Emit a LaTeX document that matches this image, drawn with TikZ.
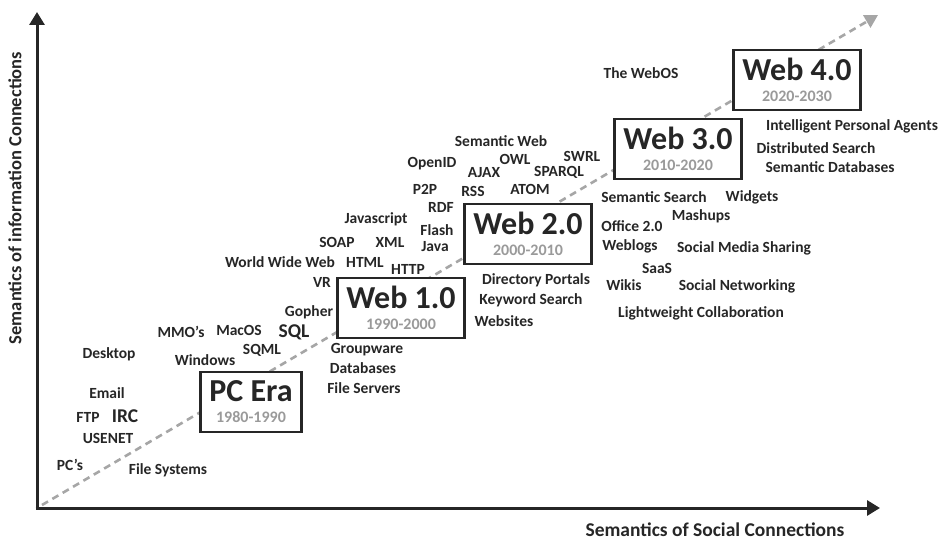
\documentclass[tikz,border=0pt]{standalone}
\usepackage{fontspec}
\setmainfont{Carlito}
\usepackage{xcolor}
\usepackage{tikz}
\usetikzlibrary{arrows.meta,positioning}
\definecolor{ink}{HTML}{262626}
\definecolor{yeargray}{HTML}{9A9A9A}
\definecolor{trendgray}{HTML}{A6A6A6}
\tikzset{
  myaxis/.style={line width=3pt,draw=ink,-{Triangle[length=13pt,width=15pt]}},
  mytrend/.style={line width=2.6pt,draw=trendgray,dash pattern=on 7pt off 5pt,
    -{Triangle[length=13pt,width=14pt]}},
  myterm/.style={text=ink,font=\bfseries\fontsize{15.5}{16}\selectfont,inner sep=0pt},
  mybig/.style={myterm,font=\bfseries\fontsize{19.5}{20}\selectfont},
  myera/.style={draw=ink,line width=2.6pt,fill=white,align=center,text=ink,
    font=\bfseries\fontsize{32}{32}\selectfont,
    minimum height=60pt,inner xsep=9pt,inner ysep=2pt},
  myaxlabel/.style={text=ink,font=\bfseries\fontsize{19.5}{20}\selectfont}
}
\newcommand{\era}[2]{#1\\[-11pt]
  {\color{yeargray}\fontsize{16}{17}\selectfont #2}}

\begin{document}
\begin{tikzpicture}[x=1pt,y=-1pt]
  \useasboundingbox (0,0) rectangle (944,540);
  \coordinate (origin) at (37,508);
  \coordinate (ytip) at (37,12);
  \coordinate (xtip) at (880,508);
  \coordinate (trendstart) at (42,505);
  \coordinate (trendend) at (878,15);

  % axes and the rising trend
  \draw[mytrend] (trendstart) -- (trendend);
  \draw[myaxis] ([yshift=1.5pt]origin) -- (ytip);
  \draw[myaxis] ([xshift=-1.5pt]origin) -- (xtip);
  \node[myaxlabel,rotate=90,font=\bfseries\fontsize{18.5}{19}\selectfont] (ylab)
    at (15,198) {Semantics of information Connections};
  \node[myaxlabel] (xlab) at (715,530) {Semantics of Social Connections};

  % the eras
  \node[myera] (pc)   at (251,402) {\era{PC Era}{1980-1990}};
  \node[myera] (web1) at (401,308) {\era{Web 1.0}{1990-2000}};
  \node[myera] (web2) at (528,234) {\era{Web 2.0}{2000-2010}};
  \node[myera] (web3) at (678,149) {\era{Web 3.0}{2010-2020}};
  \node[myera] (web4) at (797,80)  {\era{Web 4.0}{2020-2030}};

  % technologies around each era
  \foreach \x/\y/\t [count=\i] in {
      109/354/Desktop, 107/393/Email, 88/417/FTP, 108/438/USENET,
      70/465/PC’s, 168/470/File Systems,
      181/332/MMO’s, 239/330/MacOS, 262/350/SQML, 205/360/Windows,
      309/312/Gopher, 367/350/Groupware, 363/368/Databases, 364/388/File Servers,
      280/262/World Wide Web, 322/282/VR, 365/262/HTML, 408/269/HTTP,
      337/242/SOAP, 390/242/XML, 376/219/Javascript, 437/230/Flash, 435/247/Java,
      441/207/RDF, 425/189/P2P, 473/191/RSS, 530/189/ATOM,
      432/164/OpenID, 484/173/AJAX, 515/159/OWL, 559/172/SPARQL,
      501/141/Semantic Web, 582/156/SWRL,
      536/280/Directory Portals, 531/300/Keyword Search, 504/321/Websites,
      654/197/Semantic Search, 752/197/Widgets, 701/216/Mashups,
      632/226/Office 2.0, 630/246/Weblogs, 744/248/Social Media Sharing,
      657/268/SaaS, 624/285/Wikis, 737/286/Social Networking,
      701/313/Lightweight Collaboration,
      641/73/The WebOS, 852/126/Intelligent Personal Agents,
      816/148/Distributed Search, 830/167/Semantic Databases}
    \node[myterm] (term-\i) at (\x,\y) {\t};
  \node[mybig] (irc) at (125,416) {IRC};
  \node[mybig] (sql) at (294,332) {SQL};
\end{tikzpicture}
\end{document}
